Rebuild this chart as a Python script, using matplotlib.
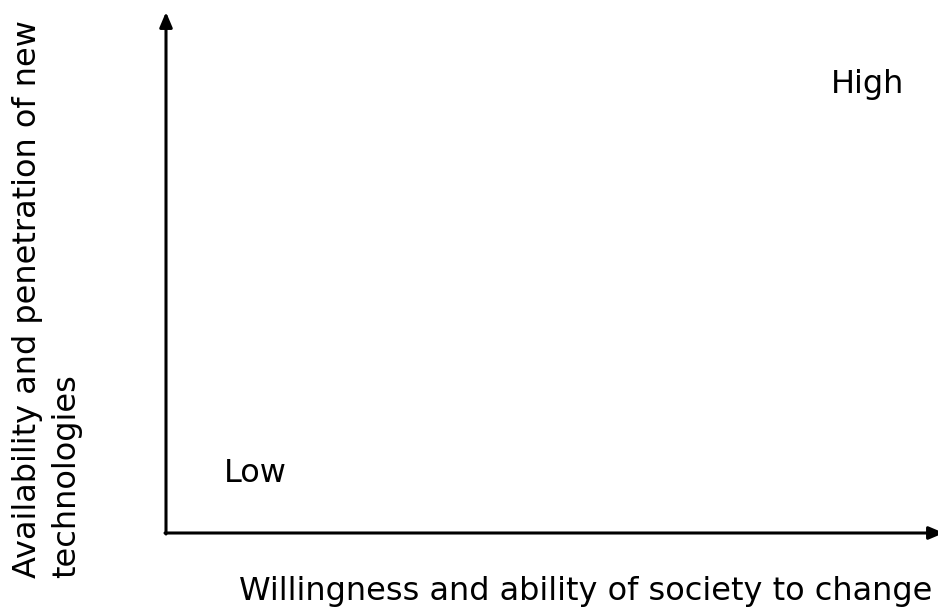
import matplotlib
matplotlib.use("Agg")
import matplotlib.pyplot as plt

x_label = "Willingness and ability of society to change"
y_label = "Availability and penetration of new\ntechnologies"
corner_labels = ["Low", "High"]

W, H = 938, 610
fig = plt.figure(figsize=(W / 100, H / 100), dpi=100)
ax = fig.add_axes([0, 0, 1, 1])
ax.set_xlim(0, W)
ax.set_ylim(H, 0)
ax.axis("off")

ox, oy = 166, 533
arrow = dict(arrowstyle="-|>,head_length=0.9,head_width=0.38", color="black", lw=2.2,
             shrinkA=0, shrinkB=0)
ax.annotate("", xy=(ox, 12), xytext=(ox, oy + 1), arrowprops=arrow, annotation_clip=False)
ax.annotate("", xy=(944, oy), xytext=(ox - 1, oy), arrowprops=arrow, annotation_clip=False)

fs = 23
ax.text(224, 482, corner_labels[0], fontsize=fs, ha="left", va="baseline")
ax.text(831, 93, corner_labels[1], fontsize=fs, ha="left", va="baseline")
ax.text(586, 600, x_label, fontsize=fs, ha="center", va="baseline")
ax.text(12, 578, y_label, fontsize=fs, ha="left", va="bottom", rotation=90,
        multialignment="left", linespacing=1.35)

fig.savefig("out.png", dpi=100)
